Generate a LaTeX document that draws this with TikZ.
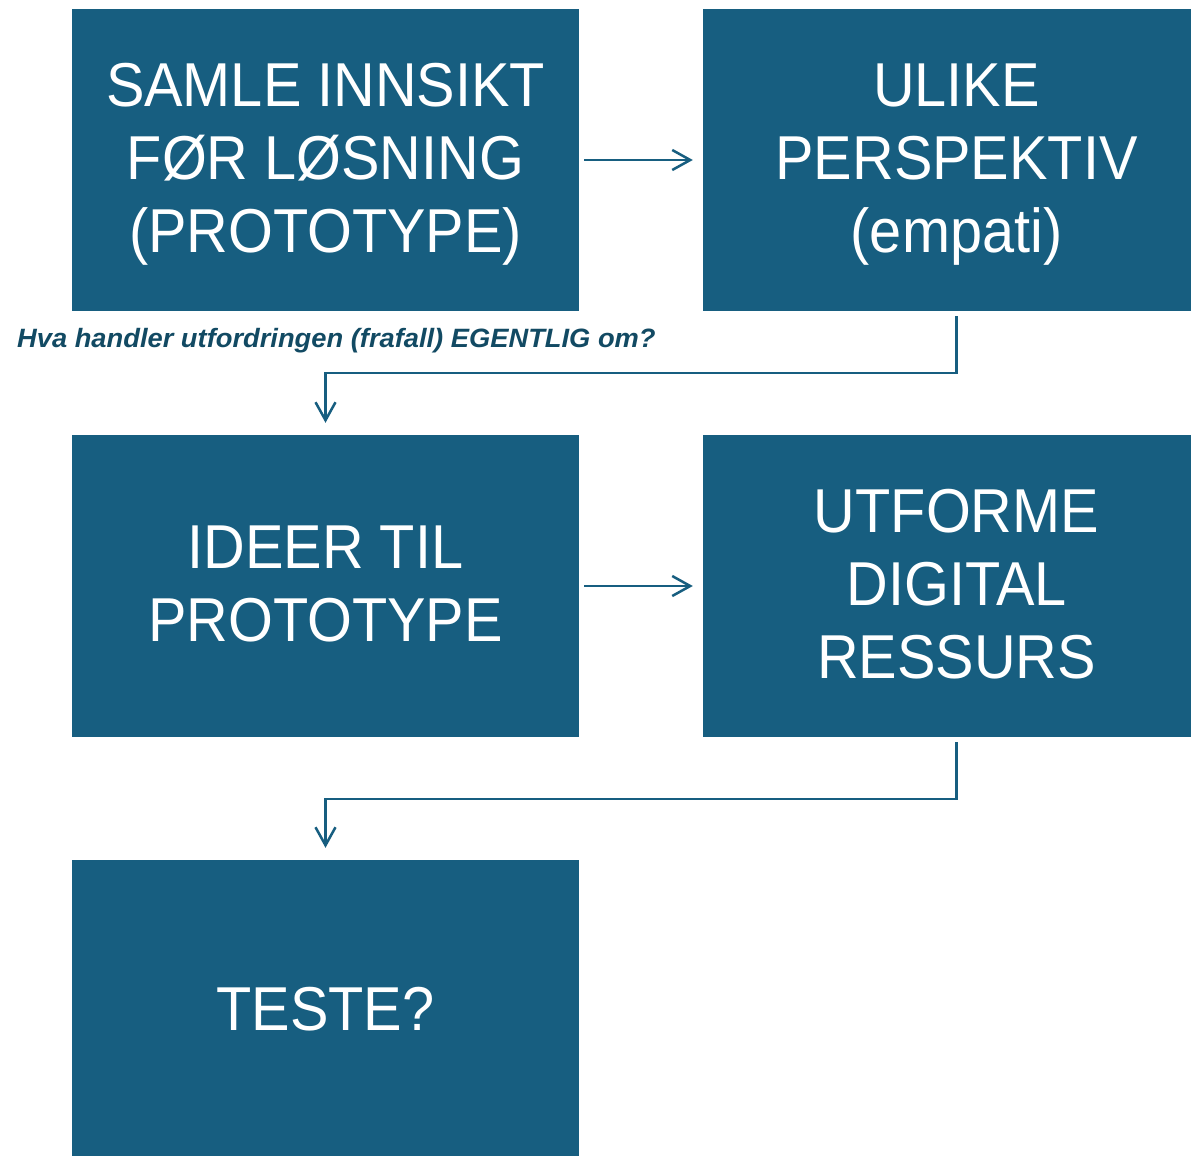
\documentclass[tikz,border=0pt]{standalone}
\usepackage{fontspec}
\setmainfont[FakeStretch=0.93]{Liberation Sans}
\newfontfamily\labelfont[FakeStretch=1.03]{Liberation Sans}
\usetikzlibrary{arrows.meta}
\definecolor{boxblue}{HTML}{175E80}
\definecolor{labelblue}{HTML}{124A63}
\tikzset{
  stepbox/.style={fill=boxblue, draw=none, minimum width=507pt, minimum height=302pt,
    text=white, align=center, inner sep=0pt, text depth=4pt, font=\fontsize{62}{73}\selectfont},
  conn/.style={draw=boxblue, line width=2.5pt, -{Straight Barb[length=18pt,width=20pt,line width=2.5pt]}},
}
\begin{document}
\begin{tikzpicture}[x=1pt,y=-1pt]
\clip (0,0) rectangle (1191,1156);
\fill[white] (0,0) rectangle (1191,1156);
\node[stepbox] (b1) at (325.5,160) {SAMLE INNSIKT\\FØR LØSNING\\(PROTOTYPE)};
\node[stepbox] (b2) at (956.5,160) {ULIKE\\PERSPEKTIV\\(empati)};
\node[stepbox] (b3) at (325.5,586) {IDEER TIL\\PROTOTYPE};
\node[stepbox] (b4) at (956.5,586) {UTFORME\\DIGITAL\\RESSURS};
\node[stepbox] (b5) at (325.5,1011) {TESTE?};
\node[anchor=base west, inner sep=0pt, text=labelblue, font=\labelfont\fontsize{26.5}{30}\selectfont\bfseries\itshape] (lbl) at (17,347) {Hva handler utfordringen (frafall) EGENTLIG om?};
\draw[conn, shorten <=5pt, shorten >=10pt] (b1.east) -- (b2.west);
\draw[conn, shorten <=5pt, shorten >=10pt] (b3.east) -- (b4.west);
\draw[conn, shorten <=5pt, shorten >=12pt] (b2.south) -- ++(0,62) -| (b3.north);
\draw[conn, shorten <=5pt, shorten >=12pt] (b4.south) -- ++(0,62) -| (b5.north);
\end{tikzpicture}
\end{document}
